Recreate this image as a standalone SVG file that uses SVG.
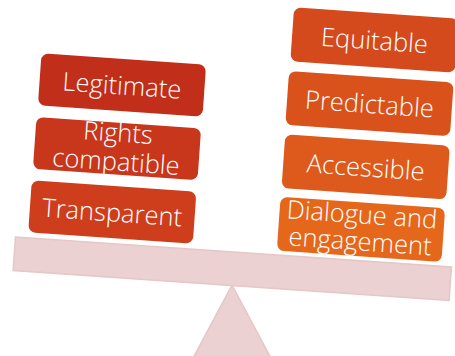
<svg xmlns="http://www.w3.org/2000/svg" width="455" height="356" viewBox="0 0 455 356">
<style>
.box{stroke:none}
.lbl{font-family:"Open Sans","Liberation Sans",sans-serif;font-weight:300;font-size:25.5px;fill:#ffffff;text-anchor:middle}
.scale{fill:#ebd1d1;stroke:#e6c6c6;stroke-width:1.5}
</style>
<rect width="455" height="356" fill="#ffffff"/>
<g id="scale">
<polygon class="scale" points="232,285 191,362 273,362"/>
<g transform="translate(232.3,268.8) rotate(3.94)"><rect class="scale" x="-218.5" y="-16.8" width="437" height="33.6"/></g>
</g>
<g id="connectors"></g>
<g id="legitimate" transform="translate(122,85) rotate(4)"><rect class="box" x="-82.5" y="-26" width="165" height="52" rx="7" fill="#c12e1a"/><text class="lbl" x="0" y="9.5">Legitimate</text></g>
<g id="rights" transform="translate(117,148.6) rotate(4)"><rect class="box" x="-82.5" y="-26" width="165" height="52" rx="7" fill="#c8361c"/><text class="lbl" x="0" y="-7">Rights</text><text class="lbl" x="0" y="22">compatible</text></g>
<g id="transparent" transform="translate(112.3,212) rotate(4)"><rect class="box" x="-82.5" y="-26" width="165" height="52" rx="7" fill="#ce3e1c"/><text class="lbl" x="0" y="9.5">Transparent</text></g>
<g id="equitable" transform="translate(374.5,40) rotate(4)"><rect class="box" x="-82.5" y="-27" width="165" height="54" rx="7" fill="#d44a1c"/><text class="lbl" x="0" y="9.5">Equitable</text></g>
<g id="predictable" transform="translate(369.5,103.6) rotate(4)"><rect class="box" x="-82.5" y="-27" width="165" height="54" rx="7" fill="#d9521c"/><text class="lbl" x="0" y="9.5">Predictable</text></g>
<g id="accessible" transform="translate(365.7,166.9) rotate(4)"><rect class="box" x="-82.5" y="-27" width="165" height="54" rx="7" fill="#dd5a1c"/><text class="lbl" x="0" y="9.5">Accessible</text></g>
<g id="dialogue" transform="translate(361,229.4) rotate(4)"><rect class="box" x="-82.5" y="-27" width="165" height="54" rx="7" fill="#e5671c"/><text class="lbl" x="0" y="-6">Dialogue and</text><text class="lbl" x="0" y="21">engagement</text></g>
</svg>
